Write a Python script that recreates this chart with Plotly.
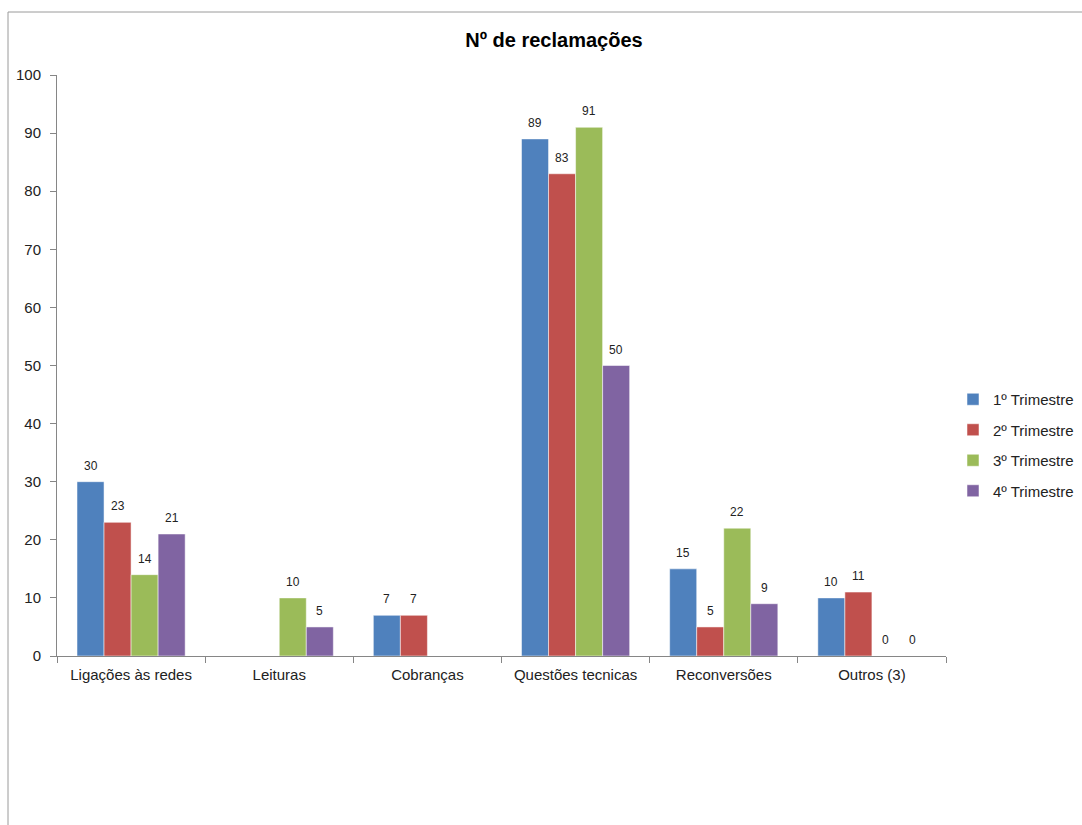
import plotly.graph_objects as go

categorias = ["Ligações às redes", "Leituras", "Cobranças", "Questões tecnicas", "Reconversões", "Outros (3)"]
trimestres = ["1º Trimestre", "2º Trimestre", "3º Trimestre", "4º Trimestre"]
t1 = [30, None, 7, 89, 15, 10]
t2 = [23, None, 7, 83, 5, 11]
t3 = [14, 10, None, 91, 22, 0]
t4 = [21, 5, None, 50, 9, 0]
cores = ["#4F81BD", "#C0504D", "#9BBB59", "#8064A2"]

fonte = "Liberation Sans"
bargap = 0.27
plot_w = 889  # pixel width of the plotting area
bar_px = plot_w / len(categorias) * (1 - bargap) / len(trimestres)

fig = go.Figure()
rotulos = []
for i, (nome, vals) in enumerate(zip(trimestres, [t1, t2, t3, t4])):
    fig.add_trace(go.Bar(
        x=categorias, y=vals, name=nome, legendgroup=str(i),
        marker=dict(color=cores[i], line=dict(color="rgba(255,255,255,0.5)", width=1)),
    ))
    # value labels above each bar
    for cat, v in zip(categorias, vals):
        if v is None:
            continue
        rotulos.append(dict(
            x=cat, y=v, xref="x", yref="y", text=str(v), showarrow=False,
            xshift=(i - 1.5) * bar_px, yshift=16, yanchor="middle",
            font=dict(family=fonte, size=12, color="#222"),
        ))

fig.update_layout(
    width=1082, height=825,
    margin=dict(l=57, r=136, t=75, b=169, autoexpand=False),
    paper_bgcolor="white", plot_bgcolor="white",
    barmode="group", bargap=bargap, bargroupgap=0,
    title=dict(text="<b>Nº de reclamações</b>", x=0.512, xanchor="center",
               y=0.951, yanchor="middle",
               font=dict(family=fonte, size=20, color="black")),
    legend=dict(xref="container", x=953 / 1082, xanchor="left",
                yref="container", y=(825 - 445) / 825, yanchor="middle",
                font=dict(family=fonte, size=15, color="#222"),
                tracegroupgap=8, itemwidth=30),
    showlegend=True,
    annotations=rotulos,
    shapes=[dict(type="rect", xref="paper", yref="paper",
                 x0=-49 / 889, x1=1.3, y0=-0.5, y1=1 + 63 / 581,
                 line=dict(color="#9a9a9a", width=1), fillcolor="rgba(0,0,0,0)",
                 layer="below")],
)
fig.update_xaxes(
    showline=True, linecolor="#868686", linewidth=1,
    ticks="outside", tickson="boundaries", ticklen=6, tickcolor="#868686",
    tickfont=dict(family=fonte, size=15, color="#222"), ticklabelstandoff=5,
    showgrid=False,
)
fig.update_yaxes(
    range=[0, 100], dtick=10, showline=True, linecolor="#868686", linewidth=1,
    ticks="outside", ticklen=6, tickcolor="#868686",
    tickfont=dict(family=fonte, size=15, color="#222"), ticklabelstandoff=6,
    showgrid=False, zeroline=False,
)
fig.write_html("out.html")
